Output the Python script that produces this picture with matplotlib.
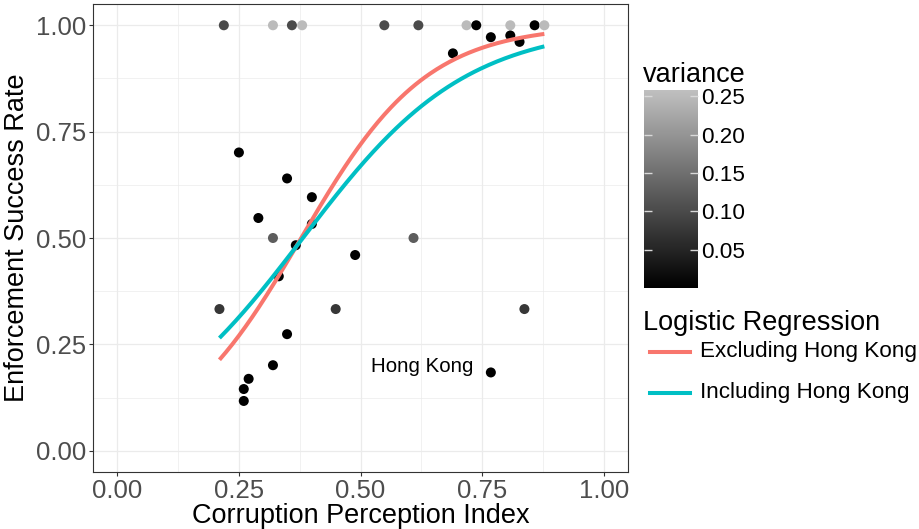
import matplotlib
matplotlib.use("Agg")
import matplotlib.pyplot as plt
from matplotlib.colors import LinearSegmentedColormap, Normalize
from matplotlib.lines import Line2D
import numpy as np

plt.rcParams["font.family"] = ["Liberation Sans", "DejaVu Sans"]

# country-level observations
cpi = [0.219, 0.320, 0.359, 0.380, 0.549, 0.619, 0.718, 0.738, 0.808, 0.858, 0.878,
       0.768, 0.808, 0.827, 0.690, 0.250, 0.349, 0.400, 0.290, 0.400, 0.367, 0.489,
       0.332, 0.349, 0.320, 0.270, 0.260, 0.260, 0.768,
       0.320, 0.609, 0.210, 0.449, 0.837]
success = [1.0, 1.0, 1.0, 1.0, 1.0, 1.0, 1.0, 1.0, 1.0, 1.0, 1.0,
           0.972, 0.976, 0.961, 0.934, 0.701, 0.640, 0.596, 0.547, 0.533, 0.483, 0.460,
           0.410, 0.274, 0.201, 0.169, 0.145, 0.117, 0.184,
           0.5, 0.5, 0.333, 0.333, 0.333]
variance = [0.10, 0.25, 0.10, 0.25, 0.10, 0.10, 0.25, 0.0, 0.25, 0.0, 0.25,
            0.0, 0.0, 0.0, 0.0, 0.0, 0.0, 0.0, 0.0, 0.0, 0.0, 0.0,
            0.0, 0.0, 0.0, 0.0, 0.0, 0.0, 0.0,
            0.125, 0.125, 0.074, 0.074, 0.074]
hk_label = (0.626, 0.198)

# logistic fits: (intercept, slope, x range, colour, label)
fits = [
    (-2.93, 7.75, (0.21, 0.878), "#F8766D", "Excluding Hong Kong"),
    (-2.27, 5.95, (0.21, 0.878), "#00BFC4", "Including Hong Kong"),
]

ticks = [0.0, 0.25, 0.5, 0.75, 1.0]
tick_labels = ["0.00", "0.25", "0.50", "0.75", "1.00"]
var_ticks = [0.05, 0.10, 0.15, 0.20, 0.25]

cmap = LinearSegmentedColormap.from_list("grey", ["#000000", "#c0c0c0"])
norm = Normalize(vmin=0.0, vmax=0.258)

fig = plt.figure(figsize=(9.19, 5.29), dpi=100)
ax = fig.add_axes([93 / 919, 1 - 472 / 529, 535 / 919, 468 / 529])

ax.scatter(cpi, success, c=variance, cmap=cmap, norm=norm, s=52, linewidths=0, zorder=3)
for a, b, (x0, x1), col, lab in fits:
    xs = np.linspace(x0, x1, 200)
    ax.plot(xs, 1 / (1 + np.exp(-(a + b * xs))), color=col, lw=2.9, zorder=4,
            solid_capstyle="butt")
ax.text(hk_label[0], hk_label[1], "Hong Kong", fontsize=14.8, ha="center", va="center")

ax.set_xlim(-0.05, 1.05)
ax.set_ylim(-0.05, 1.05)
ax.set_xticks(ticks)
ax.set_xticklabels(tick_labels)
ax.set_yticks(ticks)
ax.set_yticklabels(tick_labels)
ax.set_xticks([0.125, 0.375, 0.625, 0.875], minor=True)
ax.set_yticks([0.125, 0.375, 0.625, 0.875], minor=True)
ax.grid(which="major", color="#ebebeb", lw=0.9, zorder=0)
ax.grid(which="minor", color="#ebebeb", lw=0.5, zorder=0)
ax.set_axisbelow(True)
ax.tick_params(which="major", length=3, width=0.8, color="#333333",
               labelsize=18.5, labelcolor="#4d4d4d", pad=2)
ax.tick_params(which="minor", length=0)
for s in ax.spines.values():
    s.set_color("#333333")
    s.set_linewidth(0.8)
ax.set_xlabel("Corruption Perception Index", fontsize=19.5, labelpad=0)
ax.set_ylabel("Enforcement Success Rate", fontsize=19.5, labelpad=4)

# variance colour bar
cax = fig.add_axes([644 / 919, 1 - 288 / 529, 54 / 919, 198 / 529])
grad = np.linspace(0.0, 0.258, 256).reshape(-1, 1)
cax.imshow(grad, aspect="auto", cmap=cmap, norm=norm, origin="lower",
           extent=[0, 1, 0.0, 0.258])
cax.set_xlim(0, 1)
cax.set_ylim(0.0, 0.258)
cax.set_xticks([])
cax.set_yticks(var_ticks)
cax.set_yticklabels([f"{v:.2f}" for v in var_ticks])
cax.tick_params(axis="y", direction="in", left=True, right=True, labelleft=False,
                labelright=True, length=6, width=1, color="#d9d9d9",
                labelsize=16.2, pad=2)
for s in cax.spines.values():
    s.set_visible(False)
fig.text(643 / 919, 1 - 82 / 529, "variance", fontsize=19.5, va="baseline")

# regression legend
fig.text(643 / 919, 1 - 330 / 529, "Logistic Regression", fontsize=19.5, va="baseline")
for i, (_, _, _, col, lab) in enumerate(fits):
    yy = 1 - (352 + 40.5 * i) / 529
    fig.add_artist(Line2D([650 / 919, 690 / 919], [yy, yy], color=col, lw=2.9,
                          transform=fig.transFigure))
    fig.text(700 / 919, yy, lab, fontsize=16.2, va="center")

fig.savefig("out.png", dpi=100)
